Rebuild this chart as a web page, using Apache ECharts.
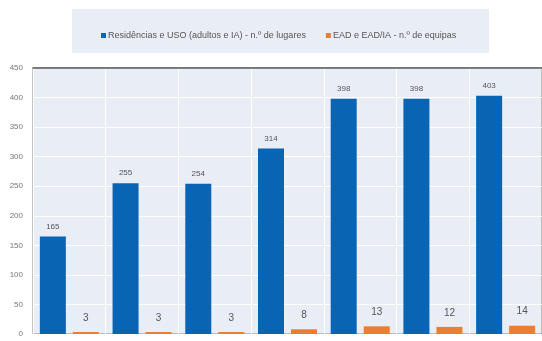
<!DOCTYPE html>
<html>
<head>
<meta charset="utf-8">
<script src="https://cdn.jsdelivr.net/npm/echarts@6/dist/echarts.min.js"></script>
<style>
  html, body { margin: 0; padding: 0; background: #fff; }
  #chart { width: 542px; height: 341px; }
</style>
</head>
<body>
<div id="chart"></div>
<script>
// categorias (rótulos não visíveis no recorte original)
const categories = ['1', '2', '3', '4', '5', '6', '7']
const lugares = [165, 255, 254, 314, 398, 398, 403]
const equipas = [3, 3, 3, 8, 13, 12, 14]
const yTicks = [0, 50, 100, 150, 200, 250, 300, 350, 400, 450]

const chart = echarts.init(document.getElementById('chart'))

chart.setOption({
  animation: false,
  textStyle: {fontFamily: 'Liberation Sans, Arial, sans-serif'},
  graphic: [{
    type: 'rect',
    z: -10,
    shape: {x: 72, y: 9, width: 417, height: 44},
    style: {fill: '#e9edf6'},
  }],
  legend: {
    left: 96,
    top: 26,
    itemWidth: 5,
    itemHeight: 5,
    itemGap: 20,
    icon: 'rect',
    textStyle: {fontSize: 9, color: '#555', padding: [0, 0, 0, -3]},
    data: ['Residências e USO (adultos e IA) - n.º de lugares', 'EAD e EAD/IA - n.º de equipas'],
  },
  grid: {
    left: 33,
    top: 68,
    width: 512,
    height: 266,
    show: true,
    backgroundColor: '#e9edf6',
    borderColor: '#8a8a8a',
    borderWidth: 1,
  },
  xAxis: [{
    type: 'category',
    data: categories,
    axisLabel: {show: false},
    axisTick: {show: false},
    axisLine: {show: false},
    splitLine: {show: true, lineStyle: {color: '#ffffff', width: 1}},
  }, {
    type: 'category',
    position: 'top',
    data: categories,
    axisLabel: {show: false},
    axisTick: {show: false},
    axisLine: {show: true, lineStyle: {color: '#5a5a5a', width: 1.5}},
  }],
  yAxis: {
    type: 'value',
    min: yTicks[0],
    max: yTicks[yTicks.length - 1],
    interval: 50,
    axisLine: {show: false},
    axisTick: {show: false},
    axisLabel: {fontSize: 8, color: '#777', margin: 10},
    splitLine: {lineStyle: {color: '#ffffff', width: 1}},
  },
  series: [
    {
      name: 'Residências e USO (adultos e IA) - n.º de lugares',
      type: 'bar',
      data: lugares,
      barWidth: 26,
      barGap: '27%',
      itemStyle: {color: '#0a64b4'},
      label: {show: true, position: 'top', distance: 6, fontSize: 8, color: '#555'},
    },
    {
      name: 'EAD e EAD/IA - n.º de equipas',
      type: 'bar',
      data: equipas,
      barWidth: 26,
      barMinHeight: 2,
      itemStyle: {color: '#ed7d31'},
      label: {show: true, position: 'top', distance: 9, fontSize: 10, color: '#555'},
    },
  ],
})
</script>
</body>
</html>
